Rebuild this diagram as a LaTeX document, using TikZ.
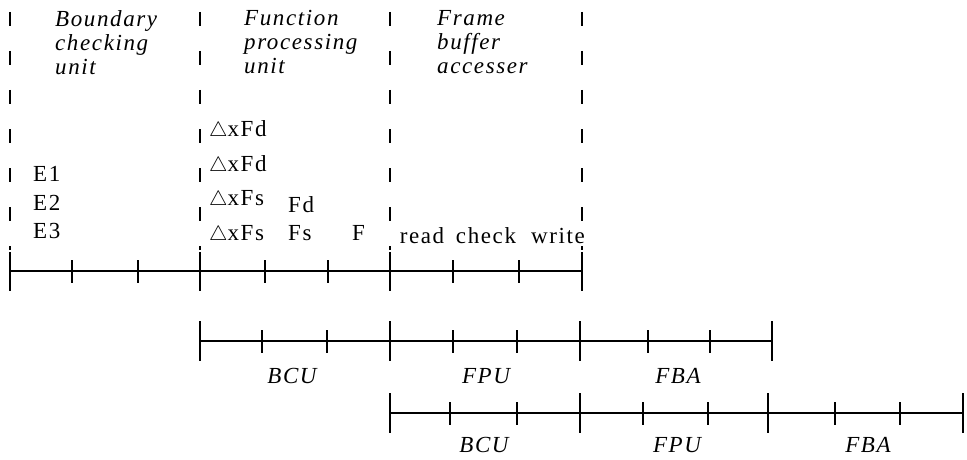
\documentclass[tikz,border=0pt]{standalone}
\usepackage{fontspec}
\setmainfont{Liberation Serif}[LetterSpace=7]
\newcommand\dtri{{\fontsize{20}{20}\selectfont$\triangle$}}
\begin{document}
\begin{tikzpicture}[x=1pt,y=-1pt,
  lbl/.style={inner sep=0pt, anchor=base west, font=\fontsize{23}{23}\selectfont},
  clbl/.style={inner sep=0pt, anchor=base, font=\fontsize{23}{23}\selectfont},
  ilbl/.style={inner sep=0pt, anchor=base, font=\fontsize{23}{23}\selectfont\itshape},
  head/.style={inner sep=0pt, anchor=north west, align=left, font=\fontsize{23}{24}\selectfont\itshape},
  sep/.style={line width=2.2pt, dash pattern=on 14pt off 25pt},
  axis/.style={line width=1.4pt},
  major/.style={line width=2pt},
  minor/.style={line width=1.6pt}]
\useasboundingbox (0,0) rectangle (967,460);
% separators
\foreach \x in {10,200,390,582} \draw[sep] (\x,12) -- (\x,250);
% headings
\node[head] (hb) at (55,10) {Boundary\\checking\\unit};
\node[head] (hf) at (244,10) {Function\\processing\\unit};
\node[head] (ha) at (437,10) {Frame\\buffer\\accesser};
% BCU column
\node[lbl] (e1) at (33,181) {E1};
\node[lbl] (e2) at (33,210) {E2};
\node[lbl] (e3) at (33,238) {E3};
% FPU column
\node[lbl] (d1) at (209,136) {\dtri xFd};
\node[lbl] (d2) at (209,171) {\dtri xFd};
\node[lbl] (d3) at (209,205) {\dtri xFs};
\node[lbl] (d4) at (209,240) {\dtri xFs};
\node[lbl] (fd) at (288,212) {Fd};
\node[lbl] (fs) at (288,240) {Fs};
\node[lbl] (f) at (352,240) {F};
% FBA column
\node[clbl] (rd) at (422,243) {read};
\node[clbl] (ck) at (486,243) {check};
\node[clbl] (wr) at (558,243) {write};
% timeline 1
\draw[axis] (10,271) -- (582,271);
\foreach \x in {10,200,390,582} \draw[major] (\x,252) -- (\x,291);
\foreach \x in {72,138,265,328,453,519} \draw[minor] (\x,260) -- (\x,283);
% timeline 2
\draw[axis] (200,341) -- (772,341);
\foreach \x in {200,390,580,772} \draw[major] (\x,321) -- (\x,361);
\foreach \x in {262,327,453,517,648,710} \draw[minor] (\x,330) -- (\x,353);
\node[ilbl] (b2) at (292,383) {BCU};
\node[ilbl] (p2) at (486,383) {FPU};
\node[ilbl] (a2) at (678,383) {FBA};
% timeline 3
\draw[axis] (390,413) -- (963,413);
\foreach \x in {390,580,768,963} \draw[major] (\x,393) -- (\x,433);
\foreach \x in {450,517,643,708,835,900} \draw[minor] (\x,402) -- (\x,425);
\node[ilbl] (b3) at (484,452) {BCU};
\node[ilbl] (p3) at (677,452) {FPU};
\node[ilbl] (a3) at (868,452) {FBA};
\end{tikzpicture}
\end{document}
